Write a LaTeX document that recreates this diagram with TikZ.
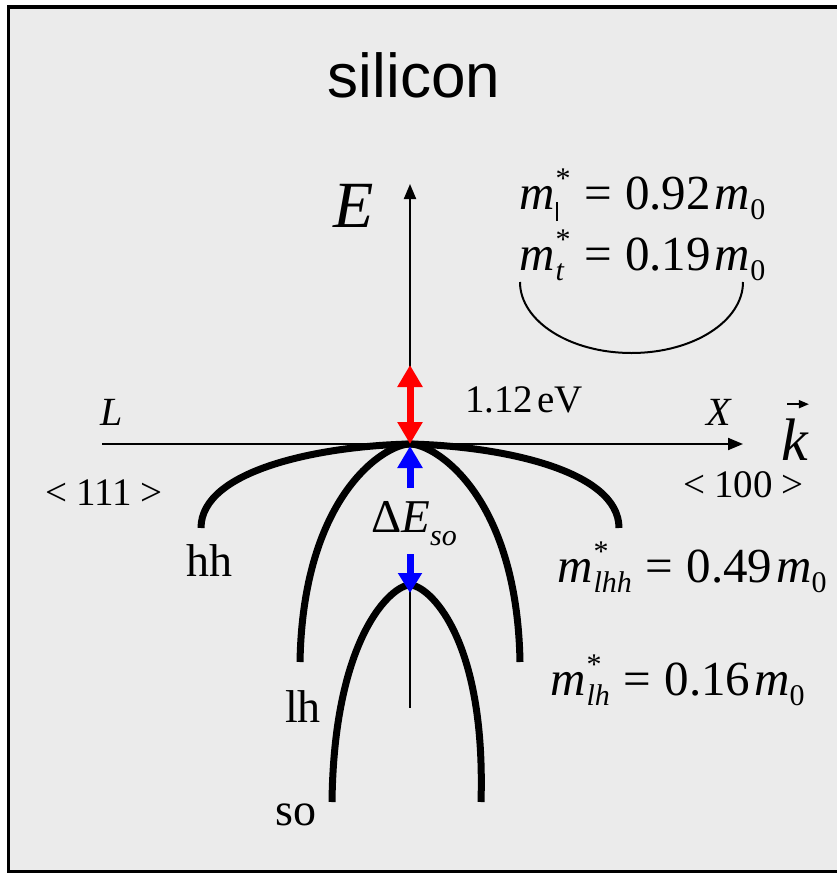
\documentclass[tikz,border=0pt]{standalone}
\usepackage{fontspec}
\setmainfont{Liberation Serif}
\newfontfamily\headfont{Liberation Sans}
\usetikzlibrary{arrows.meta}
\definecolor{panelgray}{RGB}{235,235,235}
\definecolor{gapred}{RGB}{255,0,0}
\definecolor{soblue}{RGB}{0,0,255}
\newcommand\fsz[1]{\fontsize{#1}{#1}\selectfont}
\newcommand\effmass[2]{\textit{m}\kern1pt\ooalign{\raisebox{21pt}{\fsz{30}*}\cr\raisebox{-10pt}{\fsz{30}\textit{#1}}\cr}\kern14pt=\kern13pt#2\kern4pt\textit{m}\raisebox{-10pt}{\fsz{30}0}}
\tikzset{
  lbl/.style={inner sep=0pt, anchor=base west, font=\fsz{#1}},
  lbl/.default={46},
  axis/.style={line width=2pt, -{Triangle[width=12pt,length=15pt]}},
  band/.style={line width=7pt},
  fat/.style={line width=7pt, draw=#1, -{Triangle[width=24pt,length=22pt]}},
  thin/.style={line width=2pt}
}
\begin{document}
\begin{tikzpicture}[x=1pt,y=-1pt]
  \useasboundingbox (0,0) rectangle (837,873);
  \clip (0,0) rectangle (837,873);
  \fill[white] (0,0) rectangle (837,873);
  \draw[fill=panelgray, line width=3.5pt] (8.5,7) rectangle (880,871.5);
  % title
  \node[inner sep=0pt, anchor=base, font=\headfont\fsz{62}] (title) at (414,97) {silicon};
  % axes
  \coordinate (origin) at (410,444);
  \coordinate (Etop) at (410,184);
  \coordinate (kleft) at (102,444);
  \coordinate (kright) at (743,444);
  \draw[axis] (origin) -- (Etop);
  \draw[axis] (kleft) -- (kright);
  \node[lbl=66] (Elabel) at (333,227) {\textit{E}};
  \node[lbl=40] (Llabel) at (100,425) {\textit{L}};
  \node[lbl=40] (Xlabel) at (706,425) {\textit{X}};
  \node[lbl=60] (klabel) at (781,460) {\textit{k}};
  \draw[line width=1.5pt, -{Triangle[width=8pt,length=10pt]}] ([xshift=6pt,yshift=14pt]klabel.north west) -- ([xshift=0pt,yshift=14pt]klabel.north east);
  \node[lbl=39] (dir111) at (45,505) {<\kern9pt111\kern9pt>};
  \node[lbl=39] (dir100) at (683,497) {<\kern9pt100\kern9pt>};
  % conduction band valley
  \node[lbl=49] (mlong) at (519,209) {\effmass{\rule[-2pt]{2pt}{19pt}}{0.92}};
  \node[lbl=49] (mtrans) at (519,270) {\effmass{t}{0.19}};
  \draw[thin] (520,282) arc[start angle=180, end angle=0, x radius=111.5, y radius=71];
  % valence bands
  \draw[band] (201,528) .. controls (201,470) and (320,446) .. (origin)
              .. controls (500,446) and (619,470) .. (619,528);
  \draw[band] (300,662) .. controls (303,495) and (385,444) .. (origin)
              .. controls (435,444) and (517,495) .. (520,662);
  \coordinate (sotop) at (410,585);
  \coordinate (sobottom) at (410,708);
  \draw[band] (332,802) .. controls (334,636) and (392,585) .. (sotop)
              .. controls (428,585) and (486,636) .. (481,802);
  \draw[thin] (sotop) -- (sobottom);
  % gaps
  \coordinate (cbmin) at (410,365);
  \coordinate (upbase) at (410,488);
  \coordinate (downbase) at (410,554);
  \coordinate (sotip) at (410,593);
  \draw[fat=gapred, {Triangle[width=24pt,length=22pt]}-{Triangle[width=24pt,length=22pt]}] (cbmin) -- (origin);
  \draw[fat=soblue] (upbase) -- ([yshift=-2pt]origin);
  \draw[fat=soblue, -{Triangle[width=23pt,length=20pt]}] (downbase) -- (sotip);
  \node[lbl=39] (gap) at (465,412) {1.12\kern4pt eV};
  \node[lbl=47] (dso) at (371,532) {Δ\textit{E}\raisebox{-13pt}{\fsz{30}\textit{so}}};
  % band labels
  \node[lbl] (hh) at (186,576) {hh};
  \node[lbl] (lh) at (285,722) {lh};
  \node[lbl] (so) at (275,825) {so};
  \node[lbl=49] (mhh) at (557,582) {\effmass{lhh}{0.49}};
  \node[lbl=49] (mlh) at (550,695) {\effmass{lh}{0.16}};
\end{tikzpicture}
\end{document}
